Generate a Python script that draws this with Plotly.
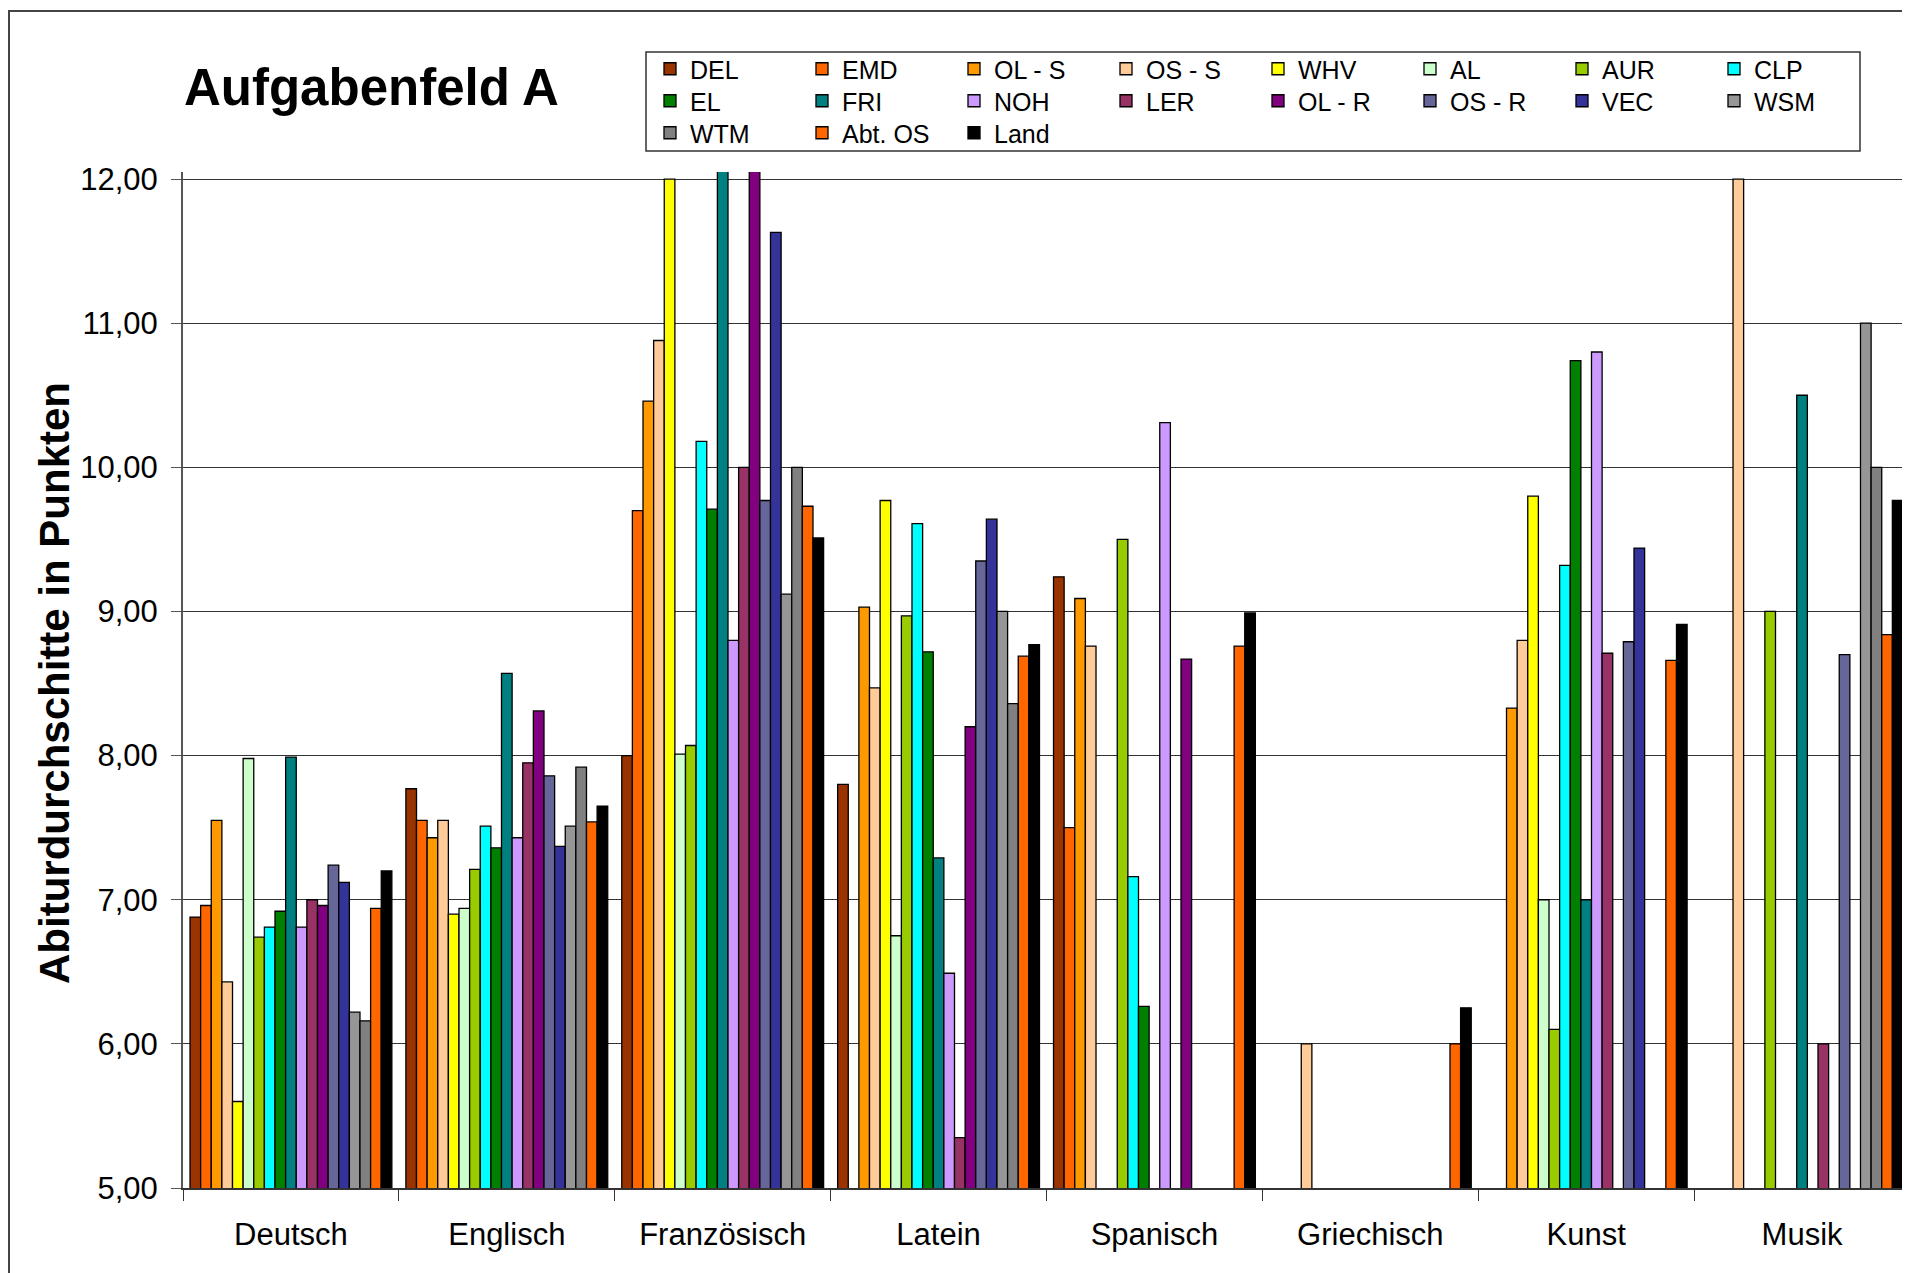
import plotly.graph_objects as go

faecher = ["Deutsch", "Englisch", "Französisch", "Latein", "Spanisch", "Griechisch", "Kunst", "Musik"]

schulen = ["DEL", "EMD", "OL - S", "OS - S", "WHV", "AL", "AUR", "CLP",
           "EL", "FRI", "NOH", "LER", "OL - R", "OS - R", "VEC", "WSM",
           "WTM", "Abt. OS", "Land"]

farben = ["#993300", "#FF6600", "#FF9900", "#FFCC99", "#FFFF00", "#CCFFCC", "#99CC00", "#00FFFF",
          "#008000", "#008080", "#CC99FF", "#993366", "#800080", "#666699", "#333399", "#969696",
          "#808080", "#FF6600", "#000000"]

# Abiturdurchschnitte je Schule, Reihenfolge wie faecher (None = kein Kurs)
DEL = [6.88, 7.77, 8.00, 7.80, 9.24, None, None, None]
EMD = [6.96, 7.55, 9.70, None, 7.50, None, None, None]
OL_S = [7.55, 7.43, 10.46, 9.03, 9.09, None, 8.33, None]
OS_S = [6.43, 7.55, 10.88, 8.47, 8.76, 6.00, 8.80, 12.00]
WHV = [5.60, 6.90, 12.00, 9.77, None, None, 9.80, None]
AL = [7.98, 6.94, 8.01, 6.75, None, None, 7.00, None]
AUR = [6.74, 7.21, 8.07, 8.97, 9.50, None, 6.10, 9.00]
CLP = [6.81, 7.51, 10.18, 9.61, 7.16, None, 9.32, None]
EL = [6.92, 7.36, 9.71, 8.72, 6.26, None, 10.74, None]
FRI = [7.99, 8.57, 12.40, 7.29, None, None, 7.00, 10.50]
NOH = [6.81, 7.43, 8.80, 6.49, 10.31, None, 10.80, None]
LER = [7.00, 7.95, 10.00, 5.35, None, None, 8.71, 6.00]
OL_R = [6.96, 8.31, 12.30, 8.20, 8.67, None, None, None]
OS_R = [7.24, 7.86, 9.77, 9.35, None, None, 8.79, 8.70]
VEC = [7.12, 7.37, 11.63, 9.64, None, None, 9.44, None]
WSM = [6.22, 7.51, 9.12, 9.00, None, None, None, 11.00]
WTM = [6.16, 7.92, 10.00, 8.36, None, None, None, 10.00]
ABT_OS = [6.94, 7.54, 9.73, 8.69, 8.76, 6.00, 8.66, 8.84]
LAND = [7.20, 7.65, 9.51, 8.77, 8.99, 6.25, 8.91, 9.77]

werte = [DEL, EMD, OL_S, OS_S, WHV, AL, AUR, CLP, EL, FRI, NOH, LER,
         OL_R, OS_R, VEC, WSM, WTM, ABT_OS, LAND]

ytick_vals = [5, 6, 7, 8, 9, 10, 11, 12]

schrift = "Liberation Sans, Arial, sans-serif"

fig = go.Figure()
for i in range(len(schulen)):
    if i < 8:
        leg = "legend"
    elif i < 16:
        leg = "legend2"
    else:
        leg = "legend3"
    fig.add_trace(go.Bar(x=faecher, y=werte[i], name=schulen[i], legend=leg,
                         marker=dict(color=farben[i], line=dict(color="black", width=1.3))))

# the page body has an 8px margin, so the figure is a bit smaller than the window
OFF = 8
W, H = 1910 - OFF, 1273 - OFF
L, R, T, B = 175, 0, 164, 85
pw = W - L - R
ph = H - T - B

# page pixel -> paper coords
def px(x):
    return (x - OFF - L) / pw

def py(y):
    return (H - B - (y - OFF)) / ph

leg_style = dict(orientation="h", font=dict(family=schrift, size=25, color="black"),
                 bgcolor="rgba(0,0,0,0)", borderwidth=0, entrywidth=107,
                 entrywidthmode="pixels", xanchor="left", yanchor="middle",
                 traceorder="normal", itemclick=False)

fig.update_layout(
    width=W, height=H,
    margin=dict(l=L, r=R, t=T, b=B),
    paper_bgcolor="white", plot_bgcolor="white",
    barmode="group", bargap=0.065, bargroupgap=0,
    separators=",.",
    font=dict(family=schrift, color="black"),
    legend=dict(leg_style, x=px(650), y=py(69)),
    legend2=dict(leg_style, x=px(650), y=py(101)),
    legend3=dict(leg_style, x=px(650), y=py(133)),
    xaxis=dict(type="category", showline=True, linecolor="#333", linewidth=1.5,
               ticks="outside", ticklen=11, tickcolor="#333", tickson="boundaries",
               tickfont=dict(family=schrift, size=31, color="black"),
               ticklabelstandoff=18, showgrid=False, automargin=False),
    yaxis=dict(range=[5, 12.049], tickvals=ytick_vals, tickformat=".2f",
               showline=True, linecolor="#555", linewidth=2,
               ticks="outside", ticklen=10, tickcolor="#555",
               tickfont=dict(family=schrift, size=31, color="black"),
               ticklabelstandoff=7, automargin=False,
               showgrid=True, gridcolor="#333", gridwidth=1, zeroline=False),
    shapes=[
        # Rahmen des Diagrammbereichs
        dict(type="line", xref="paper", yref="paper", x0=px(9), x1=px(9), y0=py(1290), y1=py(11),
             line=dict(color="#444", width=2)),
        dict(type="line", xref="paper", yref="paper", x0=px(8), x1=px(1915), y0=py(11), y1=py(11),
             line=dict(color="#444", width=2)),
        # Legendenrahmen
        dict(type="rect", xref="paper", yref="paper", x0=px(646), x1=px(1860), y0=py(151), y1=py(52),
             line=dict(color="#333", width=1.5), fillcolor="rgba(0,0,0,0)"),
    ],
    annotations=[
        dict(text="<b>Aufgabenfeld A</b>", xref="paper", yref="paper", x=px(182), y=py(88),
             xanchor="left", yanchor="middle", showarrow=False,
             font=dict(family=schrift, size=51, color="black")),
        dict(text="<b>Abiturdurchschitte in Punkten</b>", xref="paper", yref="paper",
             x=px(54), y=py(683), xanchor="center", yanchor="middle", textangle=-90,
             showarrow=False, font=dict(family=schrift, size=42, color="black")),
    ],
)

fig.write_html("out.html")
